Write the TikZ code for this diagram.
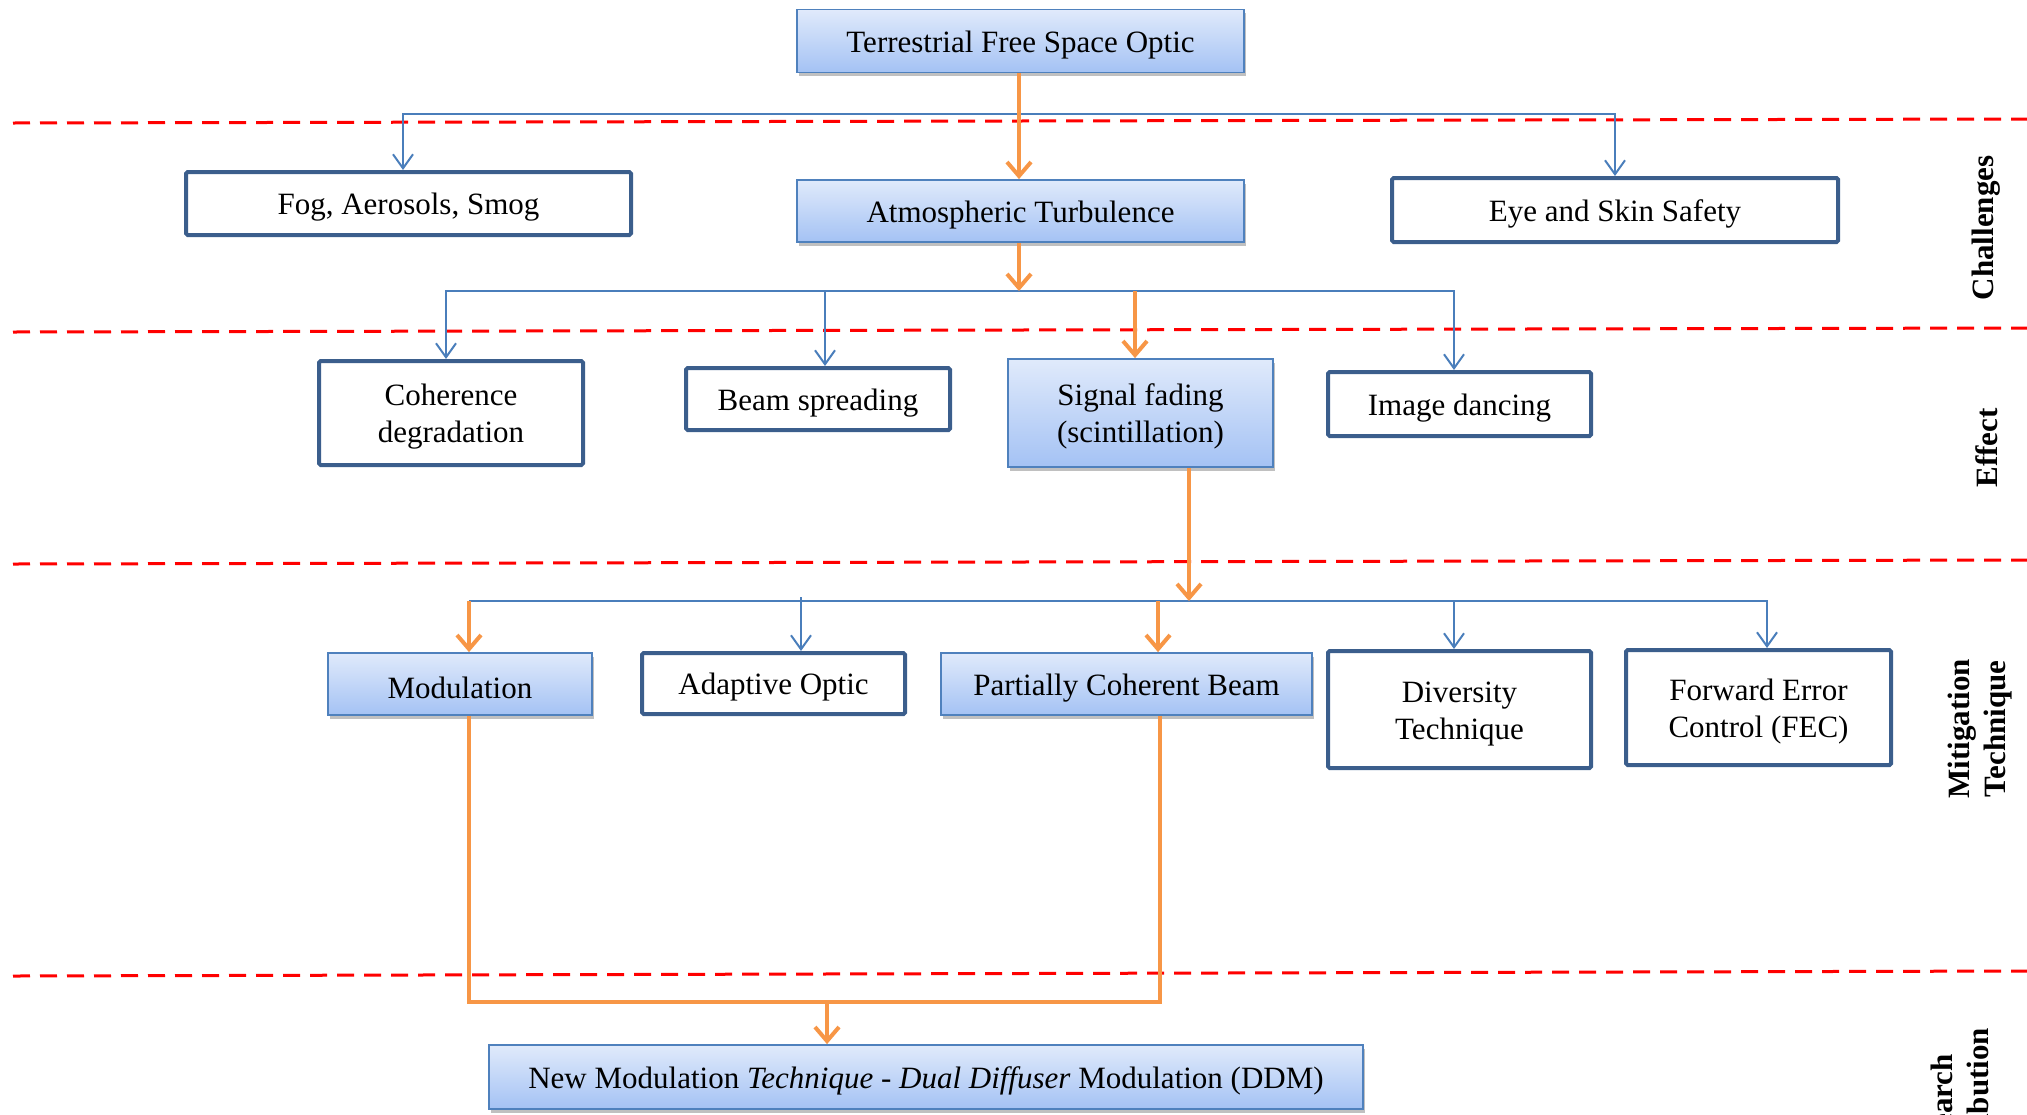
\documentclass[tikz,border=0pt]{standalone}
\usepackage{fontspec}
\setmainfont{Liberation Serif}
\usetikzlibrary{arrows.meta,shadows}
\definecolor{boxedge}{HTML}{3B5E8C}
\definecolor{filledge}{HTML}{4F81BD}
\definecolor{conblue}{HTML}{4A7EBB}
\definecolor{conorange}{HTML}{F79646}
\definecolor{filltop}{HTML}{E0EAFB}
\definecolor{fillbot}{HTML}{A4C2F4}
\newcommand\topstrut{\rule{0pt}{14.7pt}}
\begin{document}
\begin{tikzpicture}[x=0.5pt,y=-0.5pt,
  every node/.style={font=\fontsize{15.5}{18.5}\selectfont, align=center, inner sep=0pt},
  lowtext/.style={execute at begin node={\topstrut}},
  plainbox/.style={lowtext, draw=boxedge, line width=2pt, fill=white, rounded corners=0.8pt},
  fillbox/.style={lowtext, draw=filledge, line width=0.9pt, top color=filltop, bottom color=fillbot,
    drop shadow={shadow xshift=1pt, shadow yshift=-1.8pt, fill=black!45, opacity=0.55}},
  bline/.style={draw=conblue, line width=1pt},
  barr/.style={bline, -{Straight Barb[length=7pt,width=10pt,line width=1pt]}},
  oline/.style={draw=conorange, line width=2pt},
  oarr/.style={oline, -{Straight Barb[length=7pt,width=12pt]}},
  sep/.style={draw=red, line width=1.5pt, dash pattern=on 8.5pt off 5pt},
  side/.style={font=\bfseries\fontsize{15.5}{18}\selectfont, rotate=90, align=center}
]
\useasboundingbox (0,0) rectangle (2027,1114);
\clip (0,0) rectangle (2027,1114);

% separators
\draw[sep] (13,123) -- (2027,119);
\draw[sep] (13,332) -- (2027,328);
\draw[sep] (13,564) -- (2027,560);
\draw[sep] (13,976) -- (2027,971);

% nodes
\node[fillbox, minimum width=223.5pt, minimum height=31.5pt] (tfso) at (1020.5,41) {Terrestrial Free Space Optic};
\node[fillbox, minimum width=223.5pt, minimum height=31pt] (atm) at (1020.5,211) {Atmospheric Turbulence};
\node[plainbox, minimum width=222.5pt, minimum height=31.5pt] (fog) at (408.5,203.5) {Fog, Aerosols, Smog};
\node[plainbox, minimum width=223pt, minimum height=32pt] (eye) at (1615,210) {Eye and Skin Safety};

\node[plainbox, minimum width=132pt, minimum height=52pt] (coh) at (451,413) {\topstrut Coherence\\degradation};
\node[plainbox, minimum width=132pt, minimum height=31pt] (beam) at (818,399) {Beam spreading};
\node[fillbox, minimum width=132.5pt, minimum height=54pt] (sig) at (1140.5,413) {\topstrut Signal fading\\(scintillation)};
\node[plainbox, minimum width=131.5pt, minimum height=32pt] (img) at (1459.5,404) {Image dancing};

\node[fillbox, minimum width=132pt, minimum height=31pt] (mod) at (460,684) {Modulation};
\node[plainbox, minimum width=131.5pt, minimum height=30.5pt] (ada) at (773.5,683.5) {Adaptive Optic};
\node[fillbox, minimum width=185.5pt, minimum height=31pt] (pcb) at (1126.5,684) {Partially Coherent Beam};
\node[plainbox, minimum width=131.5pt, minimum height=58.5pt] (div) at (1459.5,709.5) {\topstrut Diversity\\Technique};
\node[plainbox, minimum width=132.5pt, minimum height=57.5pt] (fec) at (1758.5,707.5) {\topstrut Forward Error\\Control (FEC)};

\node[fillbox, minimum width=437pt, minimum height=32pt] (ddm) at (926,1077) {New Modulation \textit{Technique - Dual Diffuser} Modulation (DDM)};

% side labels
\node[side] (lc) at (1986,228) {Challenges};
\node[side] (le) at (1987,448) {Effect};
\node[side] (lm) at (1980,729) {Mitigation\\Technique};
\node[side] (lr) at (1960,1115) {Research\\Contribution};

% connectors level 1
\coordinate (j1) at (1019,114);
\draw[barr] (j1) -| ([xshift=-2.75pt]fog.north);
\draw[barr] (j1) -| (eye.north);
\draw[oarr] ([xshift=-0.75pt]tfso.south) -- ([xshift=-0.75pt]atm.north);

% level 2
\coordinate (j2) at (1019,291);
\draw[barr] (j2) -| ([xshift=-2.5pt]coh.north);
\draw[barr] (j2) -| ([xshift=3.5pt]beam.north);
\draw[barr] (j2) -| ([xshift=-2.75pt]img.north);
\draw[oarr] ([xshift=-0.75pt]atm.south) -- (j2);
\coordinate (sigin) at ([xshift=-2.75pt]sig.north);
\draw[oarr] (sigin |- j2) -- (sigin);

% level 3
\coordinate (sigout) at ([xshift=24.25pt]sig.south);
\coordinate (j3) at (1189,601);
\coordinate (modin) at ([xshift=4.5pt]mod.north);
\coordinate (adain) at ([xshift=13.75pt]ada.north);
\coordinate (pcbin) at ([xshift=15.75pt]pcb.north);
\coordinate (divin) at ([xshift=-2.75pt]div.north);
\coordinate (fecin) at ([xshift=4.25pt]fec.north);
\draw[bline] (j3) -- (j3 -| modin);
\draw[barr] (j3) -| (divin);
\draw[barr] (j3) -| (fecin);
\draw[barr] ([yshift=2pt]j3 -| adain) -- (adain);
\draw[oarr] (sigout) -- (j3);
\draw[oarr] (j3 -| modin) -- (modin);
\draw[oarr] (j3 -| pcbin) -- (pcbin);

% level 4
\coordinate (modout) at ([xshift=4.5pt]mod.south);
\coordinate (pcbout) at ([xshift=16.75pt]pcb.south);
\coordinate (j4) at (827,1002);
\draw[oline] (modout) |- (j4) -| (pcbout);
\draw[oarr] (j4) -- (j4 |- ddm.north);
\end{tikzpicture}
\end{document}
